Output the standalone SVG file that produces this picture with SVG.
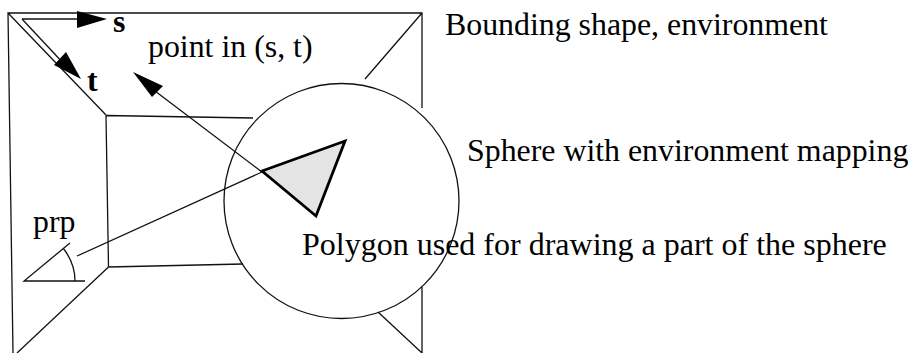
<svg xmlns="http://www.w3.org/2000/svg" width="913" height="353" viewBox="0 0 913 353">
<style>
.l{fill:none;stroke:#111;stroke-width:1.3}
.t{font-family:"Liberation Serif","Times New Roman",serif;font-size:31.850px;fill:#000}
.b{font-weight:bold}
.h{fill:#000;stroke:none}
</style>
<rect width="913" height="353" fill="#fff"/>
<g id="connectors">
<path id="box-outer" class="l" d="M13 353L8 13H422V108M8 13L106 115M422 13L365 79"/>
<path id="box-inner" class="l" d="M106 115.500L253 118M106 115.500L108.500 267L243 264M108.500 267L17 353M378 312L422 353V287"/>
<path id="axis-s" class="l" d="M22 19H80"/>
<path id="axis-t" class="l" d="M22 19L65 65"/>
<polygon class="h" points="107,19 77,11 77,28"/>
<polygon class="h" points="81,79 54,65 66,52"/>
<path id="pointer" class="l" d="M262 172L151 88"/>
<polygon class="h" points="133,72 163,86 152,97"/>
<path id="ray" class="l" d="M77 256L262 172"/>
<path id="angle" class="l" d="M70 243L24 281H85M63 248C71 258 75 269 75 281"/>
</g>
<g id="sphere"><circle class="l" cx="341.500" cy="201" r="117.500"/></g>
<g id="polygon"><polygon points="262,171 345,141 316,216" fill="#e4e4e4" stroke="#000" stroke-width="2.800" stroke-linejoin="miter"/></g>
<g id="label-s"><text class="t b" x="113" y="32">s</text></g>
<g id="label-t"><text class="t b" x="87" y="91">t</text></g>
<g id="label-point"><text class="t" x="148" y="57">point in (s, t)</text></g>
<g id="label-prp"><text class="t" x="33" y="232">prp</text></g>
<g id="label-bounding"><text class="t" x="445" y="35">Bounding shape, environment</text></g>
<g id="label-sphere"><text class="t" x="467" y="161">Sphere with environment mapping</text></g>
<g id="label-polygon"><text class="t" style="font-size:32px" x="302" y="255">Polygon used for drawing a part of the sphere</text></g>
</svg>
